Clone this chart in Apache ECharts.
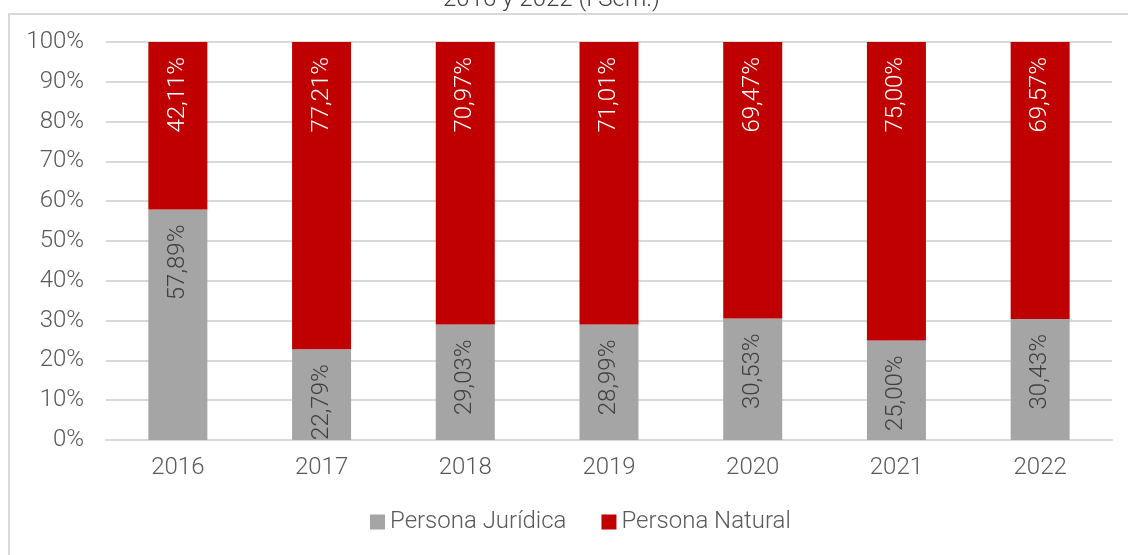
<!DOCTYPE html>
<html>
<head>
<meta charset="utf-8">
<script src="https://cdn.jsdelivr.net/npm/echarts@6/dist/echarts.min.js"></script>
<style>
  html, body { margin: 0; padding: 0; background: #fff; }
  #chart { width: 1128px; height: 555px; }
</style>
</head>
<body>
<div id="chart"></div>
<script>
const years = ['2016', '2017', '2018', '2019', '2020', '2021', '2022'];
const juridica = [57.89, 22.79, 29.03, 28.99, 30.53, 25.00, 30.43];
const natural = [42.11, 77.21, 70.97, 71.01, 69.47, 75.00, 69.57];

const chart = echarts.init(document.getElementById('chart'));
const font = 'Roboto';

function pct(p) {
  return p.value.toFixed(2).replace('.', ',') + '%';
}

const labelBase = {
  show: true,
  position: 'insideTop',
  distance: 15,
  rotate: 90,
  align: 'right',
  verticalAlign: 'middle',
  fontFamily: font,
  fontWeight: 300,
  fontSize: 24,
  formatter: pct
};

const option = {
  animation: false,
  title: {
    text: '2016 y 2022 (I Sem.)',
    left: 438,
    top: -17,
    textStyle: { fontFamily: font, fontWeight: 300, fontSize: 24, color: '#404040' }
  },
  graphic: [{
    type: 'polyline',
    shape: { points: [[9, 560], [9, 14], [1130, 14]] },
    style: { stroke: '#d9d9d9', lineWidth: 2, fill: null },
    silent: true
  }],
  legend: {
    bottom: 16,
    left: 365,
    itemWidth: 15,
    itemHeight: 15,
    itemGap: 35,
    icon: 'rect',
    textStyle: { fontFamily: font, fontWeight: 300, fontSize: 24, color: '#595959' },
    data: ['Persona Jurídica', 'Persona Natural']
  },
  grid: { left: 106, right: 16, top: 42, bottom: 115 },
  xAxis: {
    type: 'category',
    data: years,
    axisLine: { lineStyle: { color: '#d9d9d9', width: 2 } },
    axisTick: { show: false },
    axisLabel: { fontFamily: font, fontWeight: 300, fontSize: 24, color: '#595959', margin: 16 }
  },
  yAxis: {
    type: 'value',
    min: 0,
    max: 100,
    interval: 10,
    axisLine: { show: false },
    axisTick: { show: false },
    splitLine: { lineStyle: { color: '#d9d9d9', width: 2 } },
    axisLabel: {
      formatter: '{value}%',
      fontFamily: font, fontWeight: 300, fontSize: 24, color: '#595959', margin: 22
    }
  },
  series: [
    {
      name: 'Persona Jurídica',
      type: 'bar',
      stack: 'total',
      barWidth: 59,
      data: juridica,
      itemStyle: { color: '#a5a5a5' },
      label: Object.assign({}, labelBase, { color: '#404040' })
    },
    {
      name: 'Persona Natural',
      type: 'bar',
      stack: 'total',
      barWidth: 59,
      data: natural,
      itemStyle: { color: '#c00000' },
      label: Object.assign({}, labelBase, { color: '#ffffff' })
    }
  ]
};

chart.setOption(option);
</script>
</body>
</html>
